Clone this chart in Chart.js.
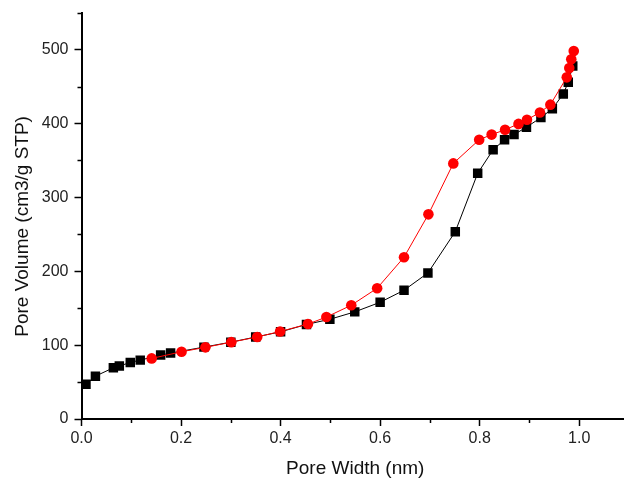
<!DOCTYPE html>
<html>
<head>
<meta charset="utf-8">
<script src="https://cdn.jsdelivr.net/npm/chart.js@4/dist/chart.umd.min.js"></script>
<style>
  html, body { margin: 0; padding: 0; overflow: hidden; background: #fff; width: 624px; height: 481px; }
  canvas { display: block; }
</style>
</head>
<body>
<canvas id="c" width="640" height="481"></canvas>
<script>
// Black squares series
const blackX = [0.009, 0.028, 0.064, 0.076, 0.098, 0.118, 0.159, 0.179, 0.246, 0.300, 0.350, 0.400, 0.452, 0.499, 0.549, 0.600, 0.648, 0.696, 0.751, 0.796, 0.827, 0.850, 0.869, 0.894, 0.923, 0.946, 0.968, 0.978, 0.987];
const blackY = [46.9, 58, 69.3, 71.6, 76.6, 79.7, 86.5, 89.2, 97.3, 104, 111, 118, 128, 135, 145, 158, 174.3, 197.7, 253.6, 332.6, 364.5, 378, 385, 395, 408, 420, 440, 456, 478];
// Red circles series
const redX = [0.141, 0.201, 0.249, 0.301, 0.353, 0.399, 0.455, 0.492, 0.542, 0.594, 0.648, 0.697, 0.747, 0.799, 0.824, 0.851, 0.878, 0.895, 0.921, 0.942, 0.975, 0.980, 0.984, 0.989];
const redY = [82, 91, 97, 104, 111, 118.5, 128.5, 138, 154, 177, 219, 277, 346, 378, 385, 391.5, 399.5, 405, 415, 425.5, 462.5, 475, 487, 498];
// Axis ticks
const xMajorTicks = [0, 0.2, 0.4, 0.6, 0.8, 1.0];
const xMinorTicks = [0.1, 0.3, 0.5, 0.7, 0.9, 1.1];
const yMajorTicks = [0, 100, 200, 300, 400, 500];
const yMinorTicks = [50, 150, 250, 350, 450, 550];
const xTitle = 'Pore Width (nm)';
const yTitle = 'Pore Volume (cm3/g STP)';

const toPts = (xs, ys) => xs.map((x, i) => ({ x: x, y: ys[i] }));

const minorTicks = {
  id: 'minorTicks',
  afterDraw(chart) {
    const ctx = chart.ctx;
    const xs = chart.scales.x, ys = chart.scales.y;
    const area = chart.chartArea;
    ctx.save();
    ctx.strokeStyle = '#000';
    ctx.lineWidth = 1.5;
    ctx.beginPath();
    xMinorTicks.forEach(v => {
      const px = Math.round(xs.getPixelForValue(v)) + 0.5;
      ctx.moveTo(px, area.bottom);
      ctx.lineTo(px, area.bottom + 4);
    });
    yMinorTicks.forEach(v => {
      const py = Math.round(ys.getPixelForValue(v)) + 0.5;
      ctx.moveTo(area.left, py);
      ctx.lineTo(area.left - 4, py);
    });
    ctx.stroke();
    ctx.restore();
  }
};

new Chart(document.getElementById('c'), {
  type: 'scatter',
  data: {
    datasets: [
      {
        data: toPts(redX, redY),
        showLine: true,
        borderColor: '#ff0000',
        backgroundColor: '#ff0000',
        borderWidth: 1,
        pointStyle: 'circle',
        pointRadius: 5.3,
        pointBorderWidth: 0,
        pointBackgroundColor: '#ff0000',
        tension: 0,
        order: 1
      },
      {
        data: toPts(blackX, blackY),
        showLine: true,
        borderColor: '#000000',
        backgroundColor: '#000000',
        borderWidth: 1,
        pointStyle: 'rect',
        pointRadius: 6.7,
        pointBorderWidth: 0,
        pointBackgroundColor: '#000000',
        tension: 0,
        order: 2
      }
    ]
  },
  options: {
    responsive: false,
    animation: false,
    events: [],
    layout: { padding: { left: 0, top: 12.7, right: 11, bottom: 0 } },
    plugins: { legend: { display: false }, tooltip: { enabled: false } },
    scales: {
      x: {
        type: 'linear',
        min: 0, max: 1.1,
        afterBuildTicks: s => { s.ticks = xMajorTicks.map(v => ({ value: v })); },
        afterFit: s => { s.height = 62; s.paddingLeft = 0; s.paddingRight = 0; },
        ticks: {
          color: '#222',
          font: { family: 'Liberation Sans, Arial', size: 16 },
          padding: 3,
          maxRotation: 0,
          callback: v => v.toFixed(1)
        },
        grid: { drawOnChartArea: false, drawTicks: true, tickLength: 7, tickColor: '#000', tickWidth: 1.5 },
        border: { display: true, color: '#000', width: 2 },
        title: {
          display: true, text: xTitle, color: '#111',
          font: { family: 'Liberation Sans, Arial', size: 19 },
          padding: { top: 4, bottom: 1 }
        }
      },
      y: {
        type: 'linear',
        min: 0, max: 550,
        afterBuildTicks: s => { s.ticks = yMajorTicks.map(v => ({ value: v })); },
        afterFit: s => { s.width = 81.5; s.paddingTop = 0; s.paddingBottom = 0; },
        ticks: {
          color: '#222',
          font: { family: 'Liberation Sans, Arial', size: 16 },
          padding: 6,
          callback: v => String(v)
        },
        grid: { drawOnChartArea: false, drawTicks: true, tickLength: 7, tickColor: '#000', tickWidth: 1.5 },
        border: { display: true, color: '#000', width: 2 },
        title: {
          display: true, text: yTitle + '\u00A0\u00A0\u00A0\u00A0', color: '#111',
          font: { family: 'Liberation Sans, Arial', size: 19 },
          padding: { top: 11, bottom: 4 }
        }
      }
    }
  },
  plugins: [minorTicks]
});
</script>
</body>
</html>
